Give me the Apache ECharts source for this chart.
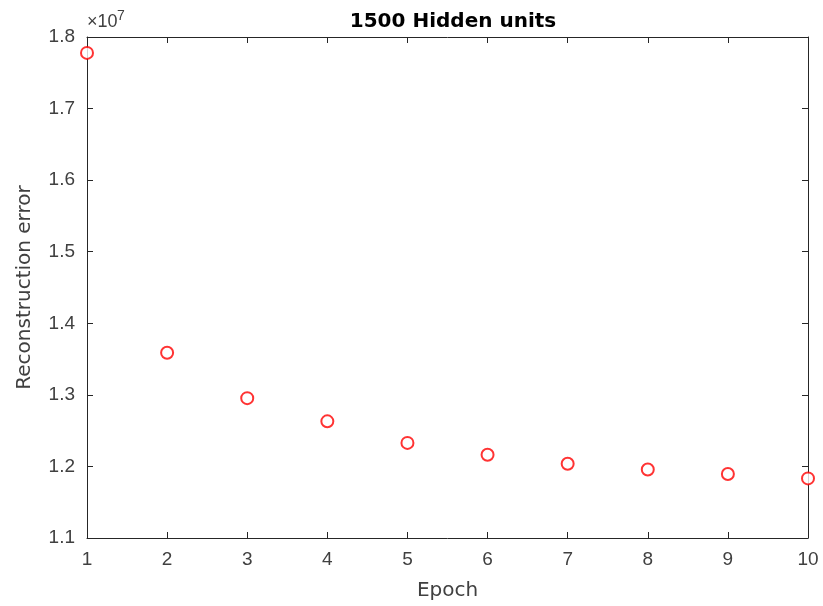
<!DOCTYPE html>
<html>
<head>
<meta charset="utf-8">
<script src="https://cdn.jsdelivr.net/npm/echarts@6/dist/echarts.min.js"></script>
<style>
  html, body { margin: 0; padding: 0; background: #fff; }
  #chart { width: 823px; height: 606px; }
</style>
</head>
<body>
<div id="chart"></div>
<script>
// 重建误差 vs epoch
var epochs = [1, 2, 3, 4, 5, 6, 7, 8, 9, 10];
var reconError = [1.7778e7, 1.3589e7, 1.2954e7, 1.2630e7, 1.2329e7, 1.2163e7, 1.2038e7, 1.1958e7, 1.1894e7, 1.1833e7];
var yTicks = [1.1, 1.2, 1.3, 1.4, 1.5, 1.6, 1.7, 1.8]; // x 1e7

var axisColor = '#262626';
var labelColor = '#404040';
var tickFont = '"Liberation Sans", Arial, sans-serif';
var nameFont = '"DejaVu Sans", sans-serif';

var dom = document.getElementById('chart');
var myChart = echarts.init(dom);

var points = epochs.map(function (e, i) { return [e, reconError[i]]; });

myChart.setOption({
    animation: false,
    title: {
        text: '1500 Hidden units',
        left: 448,
        top: 7,
        textAlign: 'center',
        textStyle: { fontFamily: nameFont, fontSize: 20, fontWeight: 'bold', color: '#000' }
    },
    grid: {
        left: 87,
        right: 15,
        top: 37,
        bottom: 64,
        containLabel: false
    },
    xAxis: [{
        type: 'value',
        min: 1,
        max: 10,
        interval: 1,
        name: 'Epoch',
        nameLocation: 'middle',
        nameGap: 43,
        nameTextStyle: { fontFamily: nameFont, fontSize: 20, color: labelColor },
        axisLine: { lineStyle: { color: axisColor, width: 1 } },
        axisTick: { inside: true, length: 6, lineStyle: { color: axisColor } },
        axisLabel: { fontFamily: tickFont, fontSize: 19, color: labelColor, margin: 12 },
        splitLine: { show: false }
    }, {
        type: 'value',
        position: 'top',
        min: 1,
        max: 10,
        interval: 1,
        axisLine: { lineStyle: { color: axisColor, width: 1 } },
        axisTick: { inside: true, length: 6, lineStyle: { color: axisColor } },
        axisLabel: { show: false },
        splitLine: { show: false }
    }],
    yAxis: [{
        type: 'value',
        min: 1.1e7,
        max: 1.8e7,
        interval: 0.1e7,
        name: 'Reconstruction error',
        nameLocation: 'middle',
        nameGap: 52,
        nameTextStyle: { fontFamily: nameFont, fontSize: 20, color: labelColor },
        axisLine: { show: true, lineStyle: { color: axisColor, width: 1 } },
        axisTick: { show: true, inside: true, length: 6, lineStyle: { color: axisColor } },
        axisLabel: {
            fontFamily: tickFont, fontSize: 19, color: labelColor, margin: 12,
            formatter: function (v) { return (v / 1e7).toFixed(1); }
        },
        splitLine: { show: false }
    }, {
        type: 'value',
        position: 'right',
        min: 1.1e7,
        max: 1.8e7,
        interval: 0.1e7,
        axisLine: { show: true, lineStyle: { color: axisColor, width: 1 } },
        axisTick: { show: true, inside: true, length: 6, lineStyle: { color: axisColor } },
        axisLabel: { show: false },
        splitLine: { show: false }
    }],
    graphic: [{
        type: 'text',
        left: 87,
        top: 13,
        style: {
            text: '\u00d710',
            fontFamily: tickFont,
            fontSize: 18,
            fill: labelColor
        }
    }, {
        type: 'text',
        left: 117,
        top: 9,
        style: {
            text: '7',
            fontFamily: tickFont,
            fontSize: 14,
            fill: labelColor
        }
    }],
    series: [{
        name: 'Reconstruction error',
        type: 'scatter',
        data: points,
        symbol: 'emptyCircle',
        symbolSize: 12,
        clip: false,
        itemStyle: {
            color: '#ff0000',
            borderColor: '#ff0000',
            borderWidth: 1.8
        }
    }]
});
window.addEventListener('resize', function () {
    myChart.resize();
});
</script>
</body>
</html>
